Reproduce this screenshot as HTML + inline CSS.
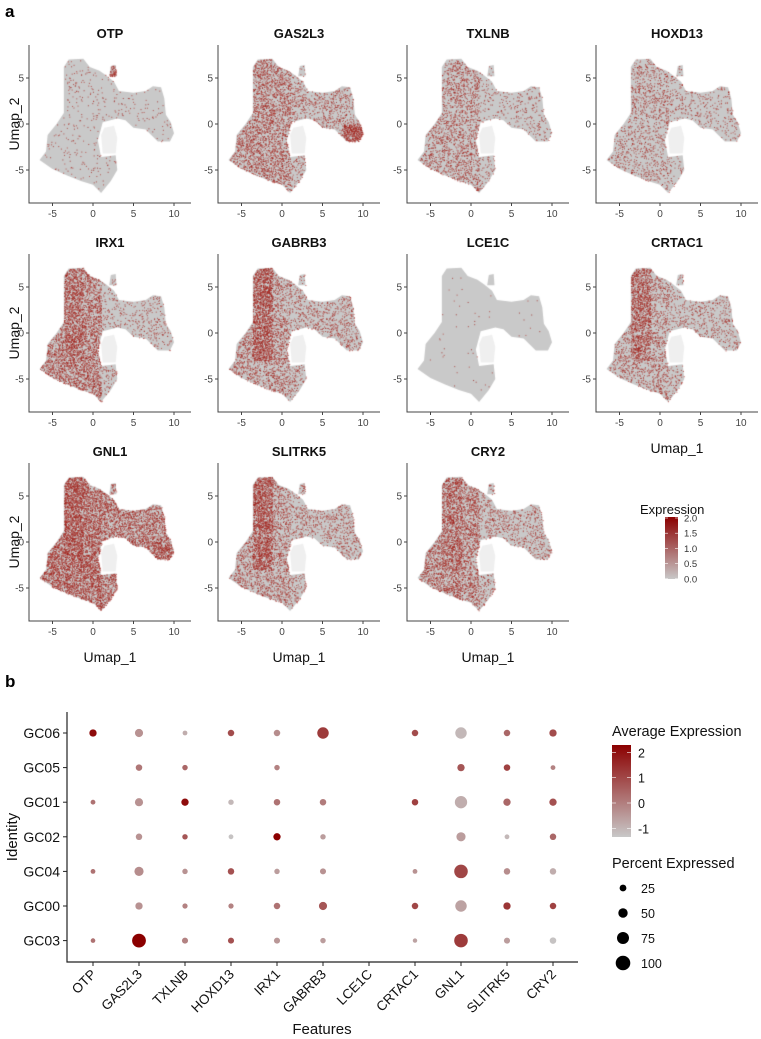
<!DOCTYPE html>
<html><head><meta charset="utf-8">
<style>
html,body{margin:0;padding:0;background:#fff;}
#wrap{position:relative;width:761px;height:1039px;overflow:hidden;font-family:"Liberation Sans",Arial,sans-serif;}
canvas{position:absolute;left:0;top:0;}
svg{position:absolute;left:0;top:0;}
</style></head>
<body>
<div id="wrap">
<canvas id="cv" width="761" height="1039"></canvas>
<svg id="sv" width="761" height="1039" xmlns="http://www.w3.org/2000/svg"></svg>
</div>
<script>
// ---------- Panel a data ----------
const genes = ["OTP","GAS2L3","TXLNB","HOXD13","IRX1","GABRB3","LCE1C","CRTAC1","GNL1","SLITRK5","CRY2"];
const geneDensity = [0.03,0.26,0.15,0.12,0.24,0.22,0.005,0.17,0.55,0.22,0.27];
const geneLeftBias = [0.2,0.8,1.2,0.6,1.6,0.6,0,0.6,0.3,0.5,1.0];
const geneBand = [0,0,0,0,0.8,2.0,0,2.2,0.3,2.2,0.6];
const geneRightCluster = [0,3.0,0,0,0,0,0,0,0.3,0,0];
const xTicks = [-5,0,5,10];
const yTicks = [-5,0,5];
const exprTicks = ["2.0","1.5","1.0","0.5","0.0"];
// ---------- Panel b data ----------
const features = ["OTP","GAS2L3","TXLNB","HOXD13","IRX1","GABRB3","LCE1C","CRTAC1","GNL1","SLITRK5","CRY2"];
const identities = ["GC06","GC05","GC01","GC02","GC04","GC00","GC03"];
const pctExpressed = [
 [30,38,6,22,22,70,0,22,70,22,30],
 [0,22,12,0,12,0,0,0,30,22,6],
 [6,38,30,12,22,22,0,22,78,30,30],
 [0,22,12,6,30,12,0,0,48,6,22],
 [6,48,12,22,12,18,0,6,90,22,22],
 [0,30,10,10,22,38,0,22,70,30,22],
 [4,92,18,18,18,12,0,2,90,18,22]];
const avgExpression = [
 [2.2,-0.3,-0.8,1.0,-0.2,1.3,null,1.0,-1.0,0.5,1.0],
 [null,0.2,0.5,null,0.0,null,null,null,0.8,1.2,0.0],
 [0.3,-0.3,2.2,-1.0,0.3,0.1,null,1.2,-0.8,0.5,0.9],
 [null,-0.3,0.8,-1.2,2.4,-0.5,null,null,-0.5,-1.0,0.5],
 [0.3,-0.2,-0.3,0.9,-0.5,-0.3,null,-0.3,1.1,-0.2,-0.8],
 [null,-0.3,0.0,0.0,0.3,0.8,null,1.1,-0.6,1.4,1.2],
 [0.3,2.4,0.0,0.9,-0.4,-0.5,null,-0.6,1.3,-0.5,-1.2]];
const avgTicks = [2,1,0,-1];
const pctTicks = [25,50,75,100];

const NS="http://www.w3.org/2000/svg";
const sv=document.getElementById('sv');
function mk(tag,attrs,parent){const e=document.createElementNS(NS,tag);for(const k in attrs)e.setAttribute(k,attrs[k]);(parent||sv).appendChild(e);return e;}
function txt(s,attrs,parent){const e=mk('text',attrs,parent);e.textContent=s;return e;}

// seeded PRNG (texture only)
let seed=12345;function rnd(){seed=(seed*1664525+1013904223)>>>0;return seed/4294967296;}

const ctx=document.getElementById('cv').getContext('2d');
const blob=[[-6.6,-3.9],[-5.8,-3.0],[-5.6,-1.2],[-4.5,0],[-3.6,1.2],[-3.6,6.2],[-3.0,7.0],[-1.2,7.1],[-0.4,6.2],[0.8,5.8],[1.6,5.3],[2.6,4.6],[3.2,3.6],[5.0,3.4],[6.5,3.6],[7.4,4.1],[8.4,4.0],[8.8,2.8],[9.0,1.0],[9.6,0.2],[10.0,-1.0],[9.5,-1.9],[8.0,-1.9],[6.5,-0.6],[5.0,-0.4],[4.0,0.4],[3.0,0.6],[1.2,0.2],[0.6,-1.8],[1.0,-3.6],[2.8,-3.4],[3.0,-5.0],[2.2,-6.2],[1.0,-7.5],[0.0,-6.6],[-1.5,-6.2],[-3.2,-5.6],[-5.0,-4.9],[-6.6,-3.9]];
const spot=[[2.0,5.2],[2.2,6.3],[2.8,6.4],[2.9,5.2]];
const hole=[[1.0,-1.2],[1.4,-0.4],[2.6,-0.2],[3.0,-1.5],[2.8,-3.2],[1.2,-3.2]];

const colX=[29,218,407,596], rowDY=[0,209,418];
function sxF(ox){return v=>ox+64+v*8.1;}
function syF(oy){return v=>oy+124-v*9.2;}
function mkPath(pts,sx,sy){const p=new Path2D();pts.forEach((q,i)=>{const X=sx(q[0]),Y=sy(q[1]);i?p.lineTo(X,Y):p.moveTo(X,Y);});p.closePath();return p;}

genes.forEach((g,i)=>{
  const c=i%4,r=Math.floor(i/4);
  const ox=colX[c],oy=rowDY[r];
  const sx=sxF(ox),sy=syF(oy);
  const grp=mk('g',{});
  
  
  const pB=mkPath(blob,sx,sy),pS=mkPath(spot,sx,sy),pH=mkPath(hole,sx,sy);
  ctx.fillStyle='#c9c9c9';ctx.fill(pB);ctx.fill(pS);
  ctx.fillStyle='rgba(220,220,220,0.45)';ctx.fill(pH);
  const d=geneDensity[i],lb=geneLeftBias[i],bd=geneBand[i],rc=geneRightCluster[i];
  const N=26000;
  for(let k=0;k<N;k++){
    const x=-7+rnd()*17.5,y=-7.8+rnd()*15.2;
    const X=sx(x),Y=sy(y);
    const inB=ctx.isPointInPath(pB,X,Y);
    let inS=false;
    if(!inB){inS=ctx.isPointInPath(pS,X,Y);if(!inS)continue;}
    let w=d*(x<1?1+lb*0.5:1-lb*0.35);
    if(x>-3.6&&x<-1.2&&y>-3)w+=d*bd;
    if(x>7.6&&y<0)w+=d*rc*1.5;
    if(inS&&i===0)w+=0.6;
    if(rnd()<w){
      const t=0.4+rnd()*0.6;
      ctx.fillStyle=`rgba(${Math.round(200-50*t)},${Math.round(80-60*t)},${Math.round(70-55*t)},0.75)`;
      ctx.fillRect(X,Y,1,1);
    }
  }
  const ax=mk('path',{d:`M${ox} ${oy+45}V${oy+203}H${ox+162}`,stroke:'#444',fill:'none','stroke-width':1},grp);
  
  
  xTicks.forEach(t=>{mk('line',{x1:sx(t),x2:sx(t),y1:oy+203,y2:oy+206,stroke:'#444'},grp);
    txt(String(t),{x:sx(t),y:oy+217,'font-size':10,'text-anchor':'middle',fill:'#444'},grp);});
  yTicks.forEach(t=>{mk('line',{x1:ox-3,x2:ox,y1:sy(t),y2:sy(t),stroke:'#444'},grp);
    txt(String(t),{x:ox-5,y:sy(t)+3.5,'font-size':10,'text-anchor':'end',fill:'#444'},grp);});
  const tt=txt(g,{x:ox+81,y:oy+38,'font-size':13,'font-weight':'bold','text-anchor':'middle',fill:'#111'},grp);
  
  
  if(c===0){const yl=txt('Umap_2',{x:0,y:0,'font-size':14,'text-anchor':'middle',fill:'#111',transform:`translate(19 ${oy+124}) rotate(-90)`},grp);
    }
  if(r===2||i===7){const xl=txt('Umap_1',{x:ox+81,y:oy+244,'font-size':14,'text-anchor':'middle',fill:'#111'},grp);
    }
});
const la=txt('a',{x:5,y:17,'font-size':17,'font-weight':'bold',fill:'#000'});


const defs=mk('defs',{});
const g1=mk('linearGradient',{id:'gr1',x1:0,y1:1,x2:0,y2:0},defs);
mk('stop',{offset:0,'stop-color':'#c8c8c8'},g1);mk('stop',{offset:1,'stop-color':'#8b0000'},g1);

const el=mk('g',{});

txt('Expression',{x:640,y:514,'font-size':13,fill:'#111'},el);
mk('rect',{x:665,y:517,width:13,height:62,fill:'url(#gr1)'},el);
exprTicks.forEach((t,k)=>{const y=518+k*15.2;txt(t,{x:684,y:y+3.5,'font-size':9.5,fill:'#333'},el);
  mk('line',{x1:665,x2:668,y1:y,y2:y,stroke:'#fff','stroke-width':0.6},el);mk('line',{x1:675,x2:678,y1:y,y2:y,stroke:'#fff','stroke-width':0.6},el);});

// ---------- Dot plot ----------
const lb=txt('b',{x:5,y:687,'font-size':17,'font-weight':'bold',fill:'#000'});

const dx=i=>93+i*46, dy=j=>733+j*34.6;
const rScale=p=>2.1+0.052*p;
function colScale(v){const t=Math.max(0,Math.min(1,(v+1.3)/3.7));
  const a=[200,200,200],b=[139,0,0];return `rgb(${a.map((x,k)=>Math.round(x+(b[k]-x)*t)).join(',')})`;}
const dg=mk('g',{});

mk('path',{d:'M67 712V962H578',stroke:'#222',fill:'none','stroke-width':1.2},dg);
identities.forEach((id,j)=>{mk('line',{x1:63,x2:67,y1:dy(j),y2:dy(j),stroke:'#222'},dg);
  const t=txt(id,{x:60,y:dy(j)+5,'font-size':14,'text-anchor':'end',fill:'#111'},dg);
  });
features.forEach((f,i)=>{mk('line',{x1:dx(i),x2:dx(i),y1:962,y2:966,stroke:'#222'},dg);
  const t=txt(f,{x:0,y:0,'font-size':13.5,'text-anchor':'end',fill:'#111',transform:`translate(${dx(i)+4} ${975}) rotate(-45)`},dg);
  });
identities.forEach((id,j)=>features.forEach((f,i)=>{
  const p=pctExpressed[j][i],v=avgExpression[j][i];
  if(!p||v===null)return;
  const c=mk('circle',{cx:dx(i),cy:dy(j),r:rScale(p),fill:colScale(v)},dg);
  
  
}));
const yt=txt('Identity',{x:0,y:0,'font-size':15,'text-anchor':'middle',fill:'#111',transform:'translate(17 837) rotate(-90)'});

const xt=txt('Features',{x:322,y:1034,'font-size':15,'text-anchor':'middle',fill:'#111'});


const al=mk('g',{});

txt('Average Expression',{x:612,y:736,'font-size':14.5,fill:'#111'},al);
mk('rect',{x:612,y:745,width:19,height:92,fill:'url(#gr1)'},al);
avgTicks.forEach(t=>{const y=803-t*25.3;txt(String(t),{x:638,y:y+5,'font-size':12.5,fill:'#111'},al);
  mk('line',{x1:612,x2:616,y1:y,y2:y,stroke:'#fff','stroke-width':0.6},al);mk('line',{x1:627,x2:631,y1:y,y2:y,stroke:'#fff','stroke-width':0.6},al);});
const pl=mk('g',{});

txt('Percent Expressed',{x:612,y:868,'font-size':14.5,fill:'#111'},pl);
pctTicks.forEach((p,k)=>{const y=888+k*25;mk('circle',{cx:623,cy:y,r:rScale(p),fill:'#000'},pl);
  txt(String(p),{x:641,y:y+5,'font-size':12.5,fill:'#111'},pl);});
</script>
</body></html>
